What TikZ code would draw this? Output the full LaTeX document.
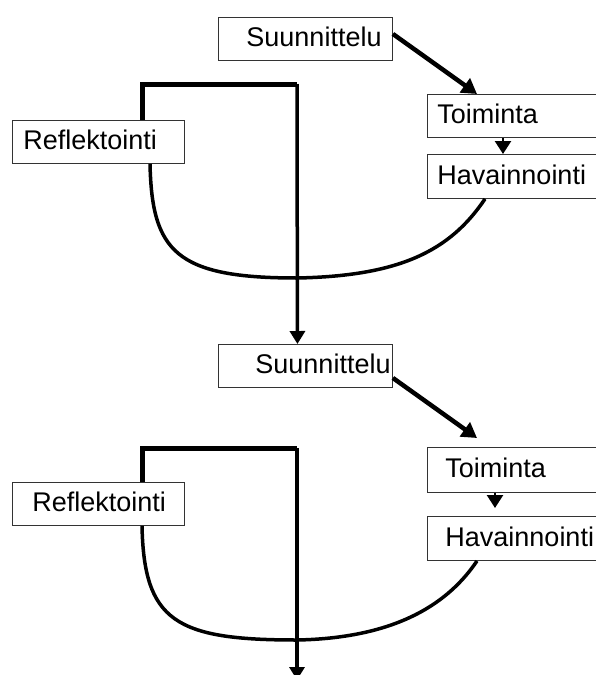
\documentclass[tikz,border=0pt]{standalone}
\usepackage{fontspec}
\setmainfont{Liberation Sans}
\usetikzlibrary{arrows.meta}
\setlength{\parindent}{0pt}
\begin{document}
\begin{tikzpicture}[x=1pt,y=-1pt]
	\tikzstyle{stepbox} = [draw=black!80,line width=0.9pt,anchor=north west,inner sep=0pt,minimum height=43pt,align=left,text height=19pt,text depth=3pt,font=\fontsize{27}{30}\selectfont]
	\tikzstyle{bigarrow} = [-{Triangle[length=15pt,width=17pt]},line width=4.5pt]
	\tikzstyle{smallarrow} = [-{Triangle[length=13pt,width=16pt]},line width=2.5pt]
	\tikzstyle{bar} = [line width=5pt,line join=miter]
	\tikzstyle{downarrow} = [-{Triangle[length=13pt,width=15pt]},line width=3.5pt]
	\tikzstyle{cycleline} = [line width=3.5pt]

		\useasboundingbox (0,0) rectangle (596,675);
		\clip (0,0) rectangle (596,675);

		% first round
		\node[stepbox,text width=174pt](suun1) at (218,17){\hspace*{28pt}Suunnittelu};
		\node[stepbox,text width=175pt](toim1) at (427,94){\hspace*{10pt}Toiminta};
		\node[stepbox,text width=175pt,minimum height=44pt](hav1) at (427,154){\hspace*{10pt}Havainnointi};
		\node[stepbox,text width=172pt](refl1) at (12,120){\hspace*{11pt}Reflektointi};
		\coordinate (turn1) at (297,84);

		% second round
		\node[stepbox,text width=174pt](suun2) at (218,344){\hspace*{37pt}Suunnittelu};
		\node[stepbox,text width=175pt,minimum height=45pt](toim2) at (427,447){\hspace*{18pt}Toiminta};
		\node[stepbox,text width=175pt,minimum height=44pt](hav2) at (427,516){\hspace*{18pt}Havainnointi};
		\node[stepbox,text width=172pt](refl2) at (12,482){\hspace*{20pt}Reflektointi};
		\coordinate (turn2) at (297,448);
		\coordinate (exit) at (297,680);

		\draw[bigarrow]([yshift=5pt]suun1.east) -- ([xshift=50pt]toim1.north west);
		\draw[smallarrow]([xshift=76pt]toim1.south west) -- ([xshift=76pt]hav1.north west);
		\draw[cycleline]([xshift=138pt]refl1.south west) .. controls +(2,87) and +(-122,0) .. (297,278) .. controls +(103,-2) and +(-35,52) .. ([xshift=58pt]hav1.south west);
		\draw[bar]([xshift=130pt]refl1.north west) |- (turn1);
		\draw[downarrow](turn1) -- ([xshift=-8pt]suun2.north);

		\draw[bigarrow]([yshift=-12pt]suun2.east) -- ([xshift=50pt,yshift=9pt]toim2.north west);
		\draw[smallarrow]([xshift=68pt]toim2.south west) -- ([xshift=68pt,yshift=8pt]hav2.north west);
		\draw[cycleline]([xshift=130pt]refl2.south west) .. controls +(2,95) and +(-122,0) .. (297,640) .. controls +(103,-2) and +(-27,40) .. ([xshift=50pt]hav2.south west);
		\draw[bar]([xshift=130pt]refl2.north west) |- (turn2);
		\draw[downarrow](turn2) -- (exit);
\end{tikzpicture}
\end{document}
